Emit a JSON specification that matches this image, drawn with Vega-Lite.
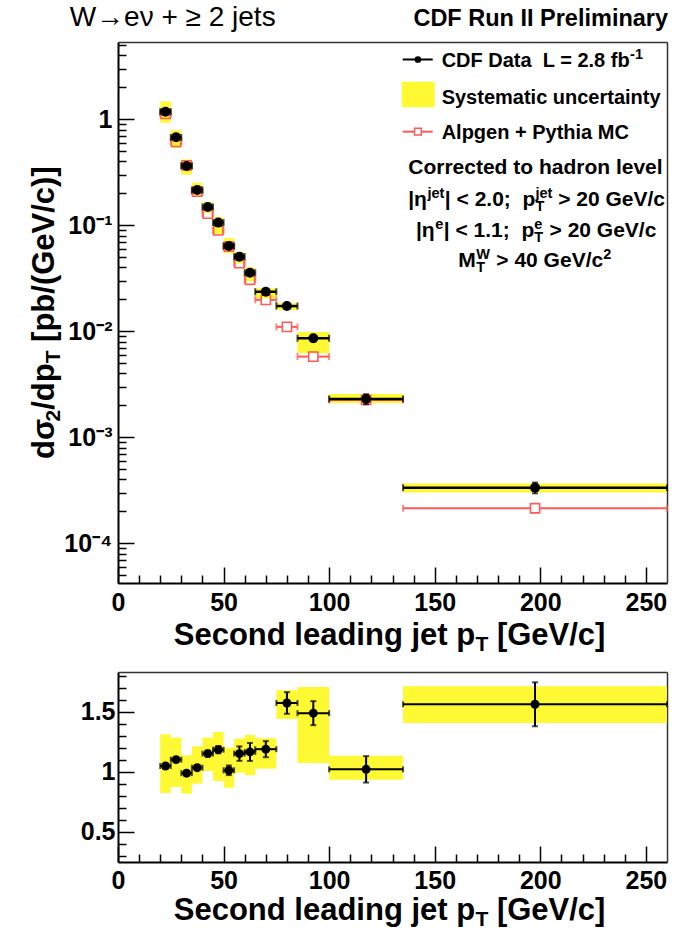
{
  "$schema": "https://vega.github.io/schema/vega-lite/v6.json",
  "autosize": "none",
  "width": 549,
  "height": 820,
  "padding": {"left": 118, "top": 42, "right": 26, "bottom": 73},
  "background": "white",
  "config": {
    "view": {"stroke": null},
    "axis": {"grid": false, "labelFont": "Liberation Sans", "labelFontWeight": "bold", "labelFontSize": 25, "labelColor": "black", "domainColor": "black", "domainWidth": 2, "tickColor": "black", "tickWidth": 1.5, "labelFlush": false, "labelOverlap": false},
    "text": {"font": "Liberation Sans", "fontWeight": "bold", "color": "black", "align": "left", "baseline": "alphabetic"}
  },
  "datasets": {
    "b": [
      {"lo":20,"hi":25,"x":22.5,"d":1.18,"dlo":1.163,"dhi":1.197,"slo":0.927,"shi":1.477,"mc":1.124,"r":1.05,"rlo":1.035,"rhi":1.065,"rslo":0.825,"rshi":1.314},
      {"lo":25,"hi":30,"x":27.5,"d":0.676,"dlo":0.664,"dhi":0.688,"slo":0.536,"shi":0.788,"mc":0.613,"r":1.103,"rlo":1.083,"rhi":1.123,"rslo":0.875,"rshi":1.286},
      {"lo":30,"hi":35,"x":32.5,"d":0.363,"dlo":0.356,"dhi":0.370,"slo":0.300,"shi":0.4176,"mc":0.367,"r":0.99,"rlo":0.97,"rhi":1.01,"rslo":0.819,"rshi":1.139},
      {"lo":35,"hi":40,"x":37.5,"d":0.215,"dlo":0.211,"dhi":0.219,"slo":0.1874,"shi":0.252,"mc":0.2075,"r":1.036,"rlo":1.016,"rhi":1.056,"rslo":0.903,"rshi":1.214},
      {"lo":40,"hi":45,"x":42.5,"d":0.149,"dlo":0.146,"dhi":0.152,"slo":0.1303,"shi":0.1662,"mc":0.129,"r":1.153,"rlo":1.128,"rhi":1.178,"rslo":1.008,"rshi":1.286},
      {"lo":45,"hi":50,"x":47.5,"d":0.106,"dlo":0.1033,"dhi":0.1087,"slo":0.0827,"shi":0.1191,"mc":0.0894,"r":1.186,"rlo":1.156,"rhi":1.216,"rslo":0.925,"rshi":1.333},
      {"lo":50,"hi":55,"x":52.5,"d":0.0638,"dlo":0.0613,"dhi":0.0663,"slo":0.0547,"shi":0.0757,"mc":0.0629,"r":1.014,"rlo":0.974,"rhi":1.054,"rslo":0.869,"rshi":1.203},
      {"lo":55,"hi":60,"x":57.5,"d":0.0506,"dlo":0.0480,"dhi":0.0532,"slo":0.0436,"shi":0.0561,"mc":0.0439,"r":1.153,"rlo":1.093,"rhi":1.213,"rslo":0.994,"rshi":1.278},
      {"lo":60,"hi":65,"x":62.5,"d":0.0357,"dlo":0.0334,"dhi":0.0380,"slo":0.0297,"shi":0.0400,"mc":0.0306,"r":1.167,"rlo":1.092,"rhi":1.242,"rslo":0.972,"rshi":1.308},
      {"lo":65,"hi":75,"x":70,"d":0.0236,"dlo":0.0223,"dhi":0.0249,"slo":0.0204,"shi":0.0254,"mc":0.0198,"r":1.19,"rlo":1.123,"rhi":1.257,"rslo":1.028,"rshi":1.281},
      {"lo":75,"hi":85,"x":80,"d":0.0173,"dlo":0.0163,"dhi":0.0183,"slo":0.01584,"shi":0.01846,"mc":0.0110,"r":1.575,"rlo":1.485,"rhi":1.665,"rslo":1.442,"rshi":1.681},
      {"lo":85,"hi":100,"x":92.5,"d":0.0086,"dlo":0.00802,"dhi":0.00918,"slo":0.0062,"shi":0.00986,"mc":0.00577,"r":1.49,"rlo":1.39,"rhi":1.59,"rslo":1.075,"rshi":1.708},
      {"lo":100,"hi":135,"x":117.5,"d":0.0023,"dlo":0.00205,"dhi":0.00255,"slo":0.002106,"shi":0.002557,"mc":0.00225,"r":1.022,"rlo":0.912,"rhi":1.132,"rslo":0.936,"rshi":1.136},
      {"lo":135,"hi":260,"x":197.5,"d":0.000335,"dlo":0.000296,"dhi":0.000374,"slo":0.0003016,"shi":0.000367,"mc":0.000214,"r":1.564,"rlo":1.381,"rhi":1.747,"rslo":1.408,"rshi":1.714}
    ],
    "t21": [
      {"u":137.44,"v":0.3048,"t":"Corrected to hadron level"},
      {"u":137.44,"v":0.1521,"t":"|η"},
      {"u":154.79,"v":0.1521,"t":"| < 2.0;\u00a0\u00a0p"},
      {"u":208.46,"v":0.1521,"t":"> 20 GeV/c"},
      {"u":141.09,"v":0.07672,"t":"|η"},
      {"u":154.27,"v":0.07672,"t":"| < 1.1;\u00a0\u00a0p"},
      {"u":204.38,"v":0.07672,"t":"> 20 GeV/c"},
      {"u":161.14,"v":0.03998,"t":"M"},
      {"u":179.17,"v":0.03998,"t":"> 40 GeV/c"}
    ],
    "t14": [
      {"u":146.54,"v":0.1810,"t":"jet"},
      {"u":197.68,"v":0.1364,"t":"T"},
      {"u":197.68,"v":0.1810,"t":"jet"},
      {"u":150.19,"v":0.09129,"t":"e"},
      {"u":197.16,"v":0.06883,"t":"T"},
      {"u":197.16,"v":0.09129,"t":"e"},
      {"u":169.67,"v":0.03587,"t":"T"},
      {"u":169.67,"v":0.04757,"t":"W"},
      {"u":229.84,"v":0.04757,"t":"2"},
      {"u":242.5,"v":3.706,"t":"-1"}
    ],
    "t20": [
      {"u":153.27,"v":3.114,"t":"CDF Data\u00a0\u00a0L = 2.8 fb"},
      {"u":153.27,"v":1.404,"t":"Systematic uncertainty"},
      {"u":153.27,"v":0.656,"t":"Alpgen + Pythia MC"}
    ]
  },
  "layer": [
    {
      "layer": [
        {
          "data": {"name": "b"},
          "mark": {"type": "rect", "color": "#fff933"},
          "encoding": {
            "x": {"field": "lo", "type": "quantitative", "scale": {"domain": [0, 260], "nice": false, "zero": false},
                  "axis": {"orient": "bottom", "offset": -279, "values": [0, 50, 100, 150, 200, 250], "tickSize": -16, "labelPadding": 23, "title": null, "format": "d"}},
            "x2": {"field": "hi"},
            "y": {"field": "slo", "type": "quantitative", "scale": {"type": "log", "domain": [0.0000422, 5.36], "range": [541, 0], "nice": false},
                  "axis": {"orient": "left", "values": [0.0001, 0.001, 0.01, 0.1, 1], "tickSize": -16, "labelPadding": 22, "title": null,
                           "labelExpr": "datum.value > 0.5 ? '1' : datum.value > 0.05 ? '10⁻¹' : datum.value > 0.005 ? '10⁻²' : datum.value > 0.0005 ? '10⁻³' : '10⁻⁴'"}},
            "y2": {"field": "shi"}
          }
        },
        {
          "data": {"name": "b"},
          "mark": {"type": "rule", "color": "#ff5a5a", "strokeWidth": 2, "x2Offset": -5},
          "encoding": {
            "x": {"field": "lo", "type": "quantitative",
                  "axis": {"orient": "bottom", "offset": -279, "values": [10,20,30,40,60,70,80,90,110,120,130,140,160,170,180,190,210,220,230,240], "tickSize": -8, "labels": false, "domain": false, "title": null}},
            "x2": {"field": "x"},
            "y": {"field": "mc", "type": "quantitative",
                  "axis": {"orient": "left", "values": [0.00005,0.00006,0.00007,0.00008,0.00009,0.0002,0.0003,0.0004,0.0005,0.0006,0.0007,0.0008,0.0009,0.002,0.003,0.004,0.005,0.006,0.007,0.008,0.009,0.02,0.03,0.04,0.05,0.06,0.07,0.08,0.09,0.2,0.3,0.4,0.5,0.6,0.7,0.8,0.9,2,3,4,5], "tickSize": -8, "labels": false, "domain": false, "title": null}}
          }
        },
        {
          "data": {"name": "b"},
          "mark": {"type": "rule", "color": "#ff5a5a", "strokeWidth": 2, "xOffset": 5},
          "encoding": {
            "x": {"field": "x", "type": "quantitative",
                  "axis": {"orient": "top", "offset": 0, "ticks": false, "labels": false, "domain": true, "domainColor": "#333333", "domainWidth": 1.5, "title": null}},
            "x2": {"field": "hi"},
            "y": {"field": "mc", "type": "quantitative",
                  "axis": {"orient": "right", "ticks": false, "labels": false, "domain": true, "domainColor": "#333333", "domainWidth": 1.5, "title": null}}
          }
        },
        {
          "data": {"name": "b"},
          "transform": [{"fold": ["lo", "hi"], "as": ["k", "xv"]}],
          "mark": {"type": "tick", "orient": "vertical", "color": "#ff5a5a", "size": 7, "thickness": 2},
          "encoding": {
            "x": {"field": "xv", "type": "quantitative", "axis": null},
            "y": {"field": "mc", "type": "quantitative", "axis": null}
          }
        },
        {
          "data": {"name": "b"},
          "mark": {"type": "point", "shape": "square", "filled": false, "color": "#ff5a5a", "size": 85, "strokeWidth": 1.6, "opacity": 1},
          "encoding": {
            "x": {"field": "x", "type": "quantitative", "axis": null},
            "y": {"field": "mc", "type": "quantitative", "axis": null}
          }
        },
        {
          "data": {"name": "b"},
          "mark": {"type": "rule", "color": "black", "strokeWidth": 2.5},
          "encoding": {
            "x": {"field": "lo", "type": "quantitative", "axis": null},
            "x2": {"field": "hi"},
            "y": {"field": "d", "type": "quantitative", "axis": null}
          }
        },
        {
          "data": {"name": "b"},
          "transform": [{"fold": ["lo", "hi"], "as": ["k", "xv"]}],
          "mark": {"type": "tick", "orient": "vertical", "color": "black", "size": 7, "thickness": 2},
          "encoding": {
            "x": {"field": "xv", "type": "quantitative", "axis": null},
            "y": {"field": "d", "type": "quantitative", "axis": null}
          }
        },
        {
          "data": {"name": "b"},
          "mark": {"type": "rule", "color": "black", "strokeWidth": 2},
          "encoding": {
            "x": {"field": "x", "type": "quantitative", "axis": null},
            "y": {"field": "dlo", "type": "quantitative", "axis": null},
            "y2": {"field": "dhi"}
          }
        },
        {
          "data": {"name": "b"},
          "transform": [{"fold": ["dlo", "dhi"], "as": ["k", "yv"]}],
          "mark": {"type": "tick", "orient": "horizontal", "color": "black", "size": 6, "thickness": 2},
          "encoding": {
            "x": {"field": "x", "type": "quantitative", "axis": null},
            "y": {"field": "yv", "type": "quantitative", "axis": null}
          }
        },
        {
          "data": {"name": "b"},
          "mark": {"type": "point", "shape": "circle", "filled": true, "color": "black", "size": 100, "opacity": 1},
          "encoding": {
            "x": {"field": "x", "type": "quantitative", "axis": null},
            "y": {"field": "d", "type": "quantitative", "axis": null}
          }
        },
        {
          "data": {"values": [{"a": 134.36, "b": 150.0, "v1": 1.298, "v2": 2.263}]},
          "mark": {"type": "rect", "color": "#fff933"},
          "encoding": {
            "x": {"field": "a", "type": "quantitative", "axis": null},
            "x2": {"field": "b"},
            "y": {"field": "v1", "type": "quantitative", "axis": null},
            "y2": {"field": "v2"}
          }
        },
        {
          "data": {"values": [{"a": 134.83, "b": 149.05, "v": 3.666}]},
          "mark": {"type": "rule", "color": "black", "strokeWidth": 2},
          "encoding": {
            "x": {"field": "a", "type": "quantitative", "axis": null},
            "x2": {"field": "b"},
            "y": {"field": "v", "type": "quantitative", "axis": null}
          }
        },
        {
          "data": {"values": [{"c": 142.04, "v": 3.666}]},
          "mark": {"type": "point", "shape": "circle", "filled": true, "color": "black", "size": 45, "opacity": 1},
          "encoding": {
            "x": {"field": "c", "type": "quantitative", "axis": null},
            "y": {"field": "v", "type": "quantitative", "axis": null}
          }
        },
        {
          "data": {"values": [{"a": 134.83, "b": 149.05, "v": 0.7639}]},
          "mark": {"type": "rule", "color": "#ff5a5a", "strokeWidth": 2},
          "encoding": {
            "x": {"field": "a", "type": "quantitative", "axis": null},
            "x2": {"field": "b"},
            "y": {"field": "v", "type": "quantitative", "axis": null}
          }
        },
        {
          "data": {"values": [{"c": 142.04, "v": 0.7639}]},
          "mark": {"type": "point", "shape": "square", "filled": true, "fill": "white", "stroke": "#ff5a5a", "size": 45, "strokeWidth": 1.5, "opacity": 1},
          "encoding": {
            "x": {"field": "c", "type": "quantitative", "axis": null},
            "y": {"field": "v", "type": "quantitative", "axis": null}
          }
        },
        {
          "data": {"name": "t20"},
          "mark": {"type": "text", "fontSize": 20},
          "encoding": {
            "x": {"field": "u", "type": "quantitative", "axis": null},
            "y": {"field": "v", "type": "quantitative", "axis": null},
            "text": {"field": "t"}
          }
        },
        {
          "data": {"name": "t21"},
          "mark": {"type": "text", "fontSize": 21},
          "encoding": {
            "x": {"field": "u", "type": "quantitative", "axis": null},
            "y": {"field": "v", "type": "quantitative", "axis": null},
            "text": {"field": "t"}
          }
        },
        {
          "data": {"name": "t14"},
          "mark": {"type": "text", "fontSize": 14.5},
          "encoding": {
            "x": {"field": "u", "type": "quantitative", "axis": null},
            "y": {"field": "v", "type": "quantitative", "axis": null},
            "text": {"field": "t"}
          }
        },
        {
          "data": {"values": [{"u": -22.89, "v": 7.59, "t": "W→eν + ≥ 2 jets"}]},
          "mark": {"type": "text", "fontSize": 28, "fontWeight": "normal"},
          "encoding": {
            "x": {"field": "u", "type": "quantitative", "axis": null},
            "y": {"field": "v", "type": "quantitative", "axis": null},
            "text": {"field": "t"}
          }
        },
        {
          "data": {"values": [{"u": 260.5, "v": 7.59, "t": "CDF Run II Preliminary"}]},
          "mark": {"type": "text", "fontSize": 23.5, "align": "right"},
          "encoding": {
            "x": {"field": "u", "type": "quantitative", "axis": null},
            "y": {"field": "v", "type": "quantitative", "axis": null},
            "text": {"field": "t"}
          }
        },
        {
          "data": {"values": [
            {"u": 26.40, "v": 0.00001098, "t": "Second leading jet p"},
            {"u": 179.44, "v": 0.00001098, "t": "[GeV/c]"}
          ]},
          "mark": {"type": "text", "fontSize": 31},
          "encoding": {
            "x": {"field": "u", "type": "quantitative", "axis": null},
            "y": {"field": "v", "type": "quantitative", "axis": null},
            "text": {"field": "t"}
          }
        },
        {
          "data": {"values": [{"u": 169.29, "v": 0.00000964, "t": "T"}]},
          "mark": {"type": "text", "fontSize": 21},
          "encoding": {
            "x": {"field": "u", "type": "quantitative", "axis": null},
            "y": {"field": "v", "type": "quantitative", "axis": null},
            "text": {"field": "t"}
          }
        },
        {
          "data": {"values": [
            {"u": -30.47, "v": 0.0006242, "t": "dσ"},
            {"u": -30.47, "v": 0.001817, "t": "/dp"},
            {"u": -30.47, "v": 0.00794, "t": "[pb/(GeV/c)]"}
          ]},
          "mark": {"type": "text", "fontSize": 31, "angle": 270},
          "encoding": {
            "x": {"field": "u", "type": "quantitative", "axis": null},
            "y": {"field": "v", "type": "quantitative", "axis": null},
            "text": {"field": "t"}
          }
        },
        {
          "data": {"values": [
            {"u": -27.63, "v": 0.001409, "t": "2"},
            {"u": -27.63, "v": 0.00499, "t": "T"}
          ]},
          "mark": {"type": "text", "fontSize": 21, "angle": 270},
          "encoding": {
            "x": {"field": "u", "type": "quantitative", "axis": null},
            "y": {"field": "v", "type": "quantitative", "axis": null},
            "text": {"field": "t"}
          }
        }
      ],
      "resolve": {"axis": {"x": "independent", "y": "independent"}}
    },
    {
      "layer": [
        {
          "data": {"name": "b"},
          "mark": {"type": "rect", "color": "#fff933"},
          "encoding": {
            "x": {"field": "lo", "type": "quantitative",
                  "axis": {"orient": "bottom", "offset": 0, "values": [0, 50, 100, 150, 200, 250], "tickSize": -16, "labelPadding": 22, "title": null, "format": "d"}},
            "x2": {"field": "hi"},
            "y": {"field": "rslo", "type": "quantitative", "scale": {"domain": [0.25, 1.833], "range": [820, 630], "nice": false, "zero": false},
                  "axis": {"orient": "left", "values": [0.5, 1, 1.5], "tickSize": -16, "labelPadding": 19, "title": null, "format": ".1~f"}},
            "y2": {"field": "rshi"}
          }
        },
        {
          "data": {"name": "b"},
          "mark": {"type": "rule", "color": "black", "strokeWidth": 2},
          "encoding": {
            "x": {"field": "lo", "type": "quantitative",
                  "axis": {"orient": "bottom", "offset": 0, "values": [10,20,30,40,60,70,80,90,110,120,130,140,160,170,180,190,210,220,230,240], "tickSize": -8, "labels": false, "domain": false, "title": null}},
            "x2": {"field": "hi"},
            "y": {"field": "r", "type": "quantitative",
                  "axis": {"orient": "left", "values": [0.3,0.4,0.6,0.7,0.8,0.9,1.1,1.2,1.3,1.4,1.6,1.7,1.8], "tickSize": -8, "labels": false, "domain": false, "title": null}}
          }
        },
        {
          "data": {"name": "b"},
          "transform": [{"fold": ["lo", "hi"], "as": ["k", "xv"]}],
          "mark": {"type": "tick", "orient": "vertical", "color": "black", "size": 6, "thickness": 2},
          "encoding": {
            "x": {"field": "xv", "type": "quantitative",
                  "axis": {"orient": "top", "offset": -630, "ticks": false, "labels": false, "domain": true, "domainColor": "#333333", "domainWidth": 1.5, "title": null}},
            "y": {"field": "r", "type": "quantitative",
                  "axis": {"orient": "right", "ticks": false, "labels": false, "domain": true, "domainColor": "#333333", "domainWidth": 1.5, "title": null}}
          }
        },
        {
          "data": {"name": "b"},
          "mark": {"type": "rule", "color": "black", "strokeWidth": 2},
          "encoding": {
            "x": {"field": "x", "type": "quantitative", "axis": null},
            "y": {"field": "rlo", "type": "quantitative", "axis": null},
            "y2": {"field": "rhi"}
          }
        },
        {
          "data": {"name": "b"},
          "transform": [{"fold": ["rlo", "rhi"], "as": ["k", "yv"]}],
          "mark": {"type": "tick", "orient": "horizontal", "color": "black", "size": 6, "thickness": 2},
          "encoding": {
            "x": {"field": "x", "type": "quantitative", "axis": null},
            "y": {"field": "yv", "type": "quantitative", "axis": null}
          }
        },
        {
          "data": {"name": "b"},
          "mark": {"type": "point", "shape": "circle", "filled": true, "color": "black", "size": 80, "opacity": 1},
          "encoding": {
            "x": {"field": "x", "type": "quantitative", "axis": null},
            "y": {"field": "r", "type": "quantitative", "axis": null}
          }
        },
        {
          "data": {"values": [
            {"u": 26.40, "v": -0.2333, "t": "Second leading jet p"},
            {"u": 179.44, "v": -0.2333, "t": "[GeV/c]"}
          ]},
          "mark": {"type": "text", "fontSize": 31},
          "encoding": {
            "x": {"field": "u", "type": "quantitative", "axis": null},
            "y": {"field": "v", "type": "quantitative", "axis": null},
            "text": {"field": "t"}
          }
        },
        {
          "data": {"values": [{"u": 169.29, "v": -0.2833, "t": "T"}]},
          "mark": {"type": "text", "fontSize": 21},
          "encoding": {
            "x": {"field": "u", "type": "quantitative", "axis": null},
            "y": {"field": "v", "type": "quantitative", "axis": null},
            "text": {"field": "t"}
          }
        }
      ],
      "resolve": {"axis": {"x": "independent", "y": "independent"}}
    }
  ],
  "resolve": {"scale": {"y": "independent"}, "axis": {"x": "independent", "y": "independent"}}
}
